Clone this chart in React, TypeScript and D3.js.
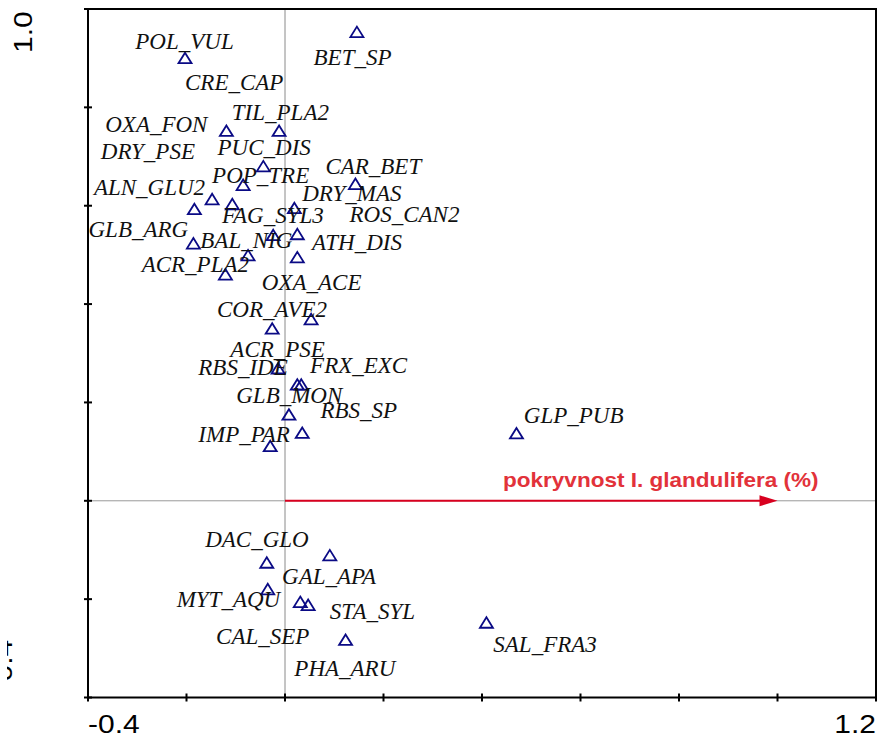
import React from "react";
import * as d3 from "d3";

// species codes
const species = [
  "POL_VUL", "BET_SP", "CRE_CAP", "TIL_PLA2", "OXA_FON", "DRY_PSE", "PUC_DIS", "CAR_BET",
  "POP_TRE", "ALN_GLU2", "DRY_MAS", "FAG_SYL3", "ROS_CAN2", "GLB_ARG", "BAL_NIG", "ATH_DIS",
  "ACR_PLA2", "OXA_ACE", "COR_AVE2", "ACR_PSE", "RBS_IDE", "FRX_EXC", "GLB_MON", "RBS_SP",
  "IMP_PAR", "GLP_PUB", "DAC_GLO", "GAL_APA", "MYT_AQU", "CAL_SEP", "STA_SYL", "PHA_ARU",
  "SAL_FRA3",
];

// species scores (axis 1, axis 2)
const scoreX = [
  -0.203, 0.146, -0.119, -0.012, -0.184, -0.148, -0.044, 0.143,
  -0.085, -0.107, 0.019, -0.024, 0.025, -0.186, -0.075, 0.025,
  -0.121, 0.053, -0.026, -0.014, 0.025, 0.033, 0.008, 0.035,
  -0.03, 0.47, -0.037, 0.091, -0.035, 0.031, 0.047, 0.123,
  0.409,
];
const scoreY = [
  0.9, 0.953, 0.752, 0.752, 0.593, 0.613, 0.68, 0.644,
  0.642, 0.603, 0.595, 0.54, 0.542, 0.523, 0.499, 0.495,
  0.46, 0.369, 0.35, 0.269, 0.236, 0.236, 0.175, 0.138,
  0.111, 0.137, -0.126, -0.111, -0.18, -0.206, -0.212, -0.283,
  -0.248,
];

// where the labels sit (same units as the scores)
const labelX = [
  -0.304, 0.058, -0.203, -0.108, -0.365, -0.374, -0.137, 0.082,
  -0.148, -0.388, 0.035, -0.128, 0.131, -0.399, -0.172, 0.055,
  -0.291, -0.047, -0.138, -0.111, -0.176, 0.051, -0.099, 0.072,
  -0.176, 0.485, -0.162, -0.006, -0.22, -0.14, 0.091, 0.019,
  0.423,
];
const labelY = [
  0.919, 0.886, 0.835, 0.774, 0.75, 0.696, 0.703, 0.665,
  0.646, 0.621, 0.609, 0.564, 0.567, 0.536, 0.513, 0.509,
  0.465, 0.428, 0.373, 0.293, 0.256, 0.259, 0.198, 0.168,
  0.119, 0.159, -0.094, -0.17, -0.216, -0.292, -0.241, -0.356,
  -0.308,
];

// environmental variable arrow
const envName = "pokryvnost I. glandulifera (%)";
const envX = [1.0];
const envY = [0.0];

const xDomain = [-0.4, 1.2];
const yDomain = [-0.4, 1.0];
const xTicks = d3.range(-0.4, 1.21, 0.2);
const yTicks = d3.range(-0.4, 1.01, 0.2);

const W = 878;
const H = 737;
const m = { left: 88, right: 2, top: 9, bottom: 39.5 };

const fmt = (v: number) => d3.format(".1f")(v).replace("\u2212", "-");

export default function App() {
  const x = d3.scaleLinear().domain(xDomain).range([m.left, W - m.right]);
  const y = d3.scaleLinear().domain(yDomain).range([H - m.bottom, m.top]);

  const tri = "M0,-5.5L6.5,5L-6.5,5Z";
  const ax = x(envX[0]);
  const ay = y(envY[0]);

  return (
    <svg width={W} height={H} style={{ position: "absolute", left: 0, top: 0, background: "#fff" }}>
      <defs>
        <clipPath id="yclip">
          <rect x={7} y={0} width={W} height={H} />
        </clipPath>
      </defs>

      {/* zero lines */}
      <line x1={x(0)} x2={x(0)} y1={y(yDomain[1])} y2={y(yDomain[0])} stroke="#8a8a8a" strokeWidth={1} />
      <line x1={x(xDomain[0])} x2={x(xDomain[1])} y1={y(0)} y2={y(0)} stroke="#9a9a9a" strokeWidth={1} />

      {/* frame */}
      <rect x={x(xDomain[0])} y={y(yDomain[1])} width={x(xDomain[1]) - x(xDomain[0])}
        height={y(yDomain[0]) - y(yDomain[1])} fill="none" stroke="#000" strokeWidth={2} />
      {xTicks.map((t, i) => (
        <line key={"xt" + i} x1={x(t)} x2={x(t)} y1={y(yDomain[0]) - 4} y2={y(yDomain[0]) + 4}
          stroke="#000" strokeWidth={2} />
      ))}
      {yTicks.map((t, i) => (
        <line key={"yt" + i} x1={x(xDomain[0]) - 4} x2={x(xDomain[0]) + 4} y1={y(t)} y2={y(t)}
          stroke="#000" strokeWidth={2} />
      ))}

      {/* axis end labels */}
      <g fontFamily="'Liberation Sans', Arial, sans-serif" fontSize={25} fill="#000">
        <text transform={`translate(${x(xDomain[0])},733) scale(1.2,1)`}>{fmt(xDomain[0])}</text>
        <text transform={`translate(${x(xDomain[1])},733) scale(1.2,1)`} textAnchor="end">
          {fmt(xDomain[1])}
        </text>
        <text transform={`translate(32,${y(yDomain[1]) + 44}) rotate(-90) scale(1.2,1)`}>
          {fmt(yDomain[1])}
        </text>
        <g clipPath="url(#yclip)">
          <text transform={`translate(12,${y(yDomain[0]) - 6}) rotate(-90) scale(1.2,1)`}>
            {fmt(yDomain[0])}
          </text>
        </g>
      </g>

      {/* arrow */}
      <line x1={x(0)} y1={y(0)} x2={ax - 16} y2={ay} stroke="#d8001f" strokeWidth={2} />
      <path d={`M${ax},${ay}L${ax - 18},${ay - 5.5}L${ax - 18},${ay + 5.5}Z`} fill="#d8001f" />
      <text transform={`translate(503,487) scale(1.128,1)`} fontFamily="'Liberation Sans', Arial, sans-serif"
        fontWeight="bold" fontSize={20} fill="#e2323a">
        {envName}
      </text>

      {/* species */}
      {species.map((s, i) => (
        <path key={"p" + s} d={tri} transform={`translate(${x(scoreX[i])},${y(scoreY[i])})`}
          fill="none" stroke="#0a0a85" strokeWidth={1.8} />
      ))}
      <g fontFamily="'Liberation Serif', 'Times New Roman', serif" fontStyle="italic" fontSize={23} fill="#111">
        {species.map((s, i) => (
          <text key={"l" + s} x={x(labelX[i])} y={y(labelY[i])}>{s}</text>
        ))}
      </g>
    </svg>
  );
}
